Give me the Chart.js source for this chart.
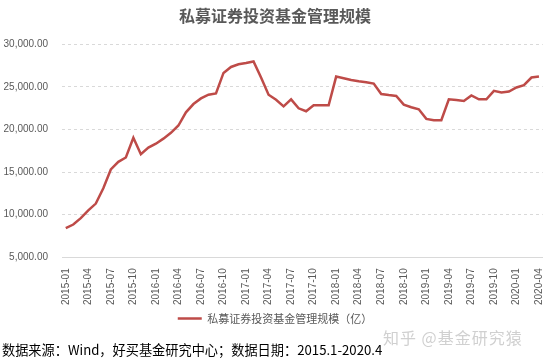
<!DOCTYPE html>
<html>
<head>
<meta charset="utf-8">
<script src="https://cdn.jsdelivr.net/npm/chart.js@4"></script>
<style>
  body { margin: 0; background: #fff; }
  #wrap { position: relative; width: 554px; height: 360px; }
  #footer { position: absolute; left: 2px; top: 340px; font: 13.2px "Noto Sans CJK SC", sans-serif; color: #000; white-space: nowrap; }
  #mark { position: absolute; left: 383px; top: 325px; font: 16px "Noto Sans CJK SC", sans-serif; color: #d0d0d0; white-space: nowrap; letter-spacing: 1px; }
</style>
</head>
<body>
<div id="wrap">
  <canvas id="chart" width="554" height="360"></canvas>
  <div id="mark">知乎 @基金研究猿</div>
  <div id="footer">数据来源：Wind，好买基金研究中心；数据日期：2015.1-2020.4</div>
</div>
<script>
const title = "私募证券投资基金管理规模";
const seriesName = "私募证券投资基金管理规模（亿）";
const months = [
  "2015-01","2015-02","2015-03","2015-04","2015-05","2015-06","2015-07","2015-08","2015-09","2015-10","2015-11","2015-12",
  "2016-01","2016-02","2016-03","2016-04","2016-05","2016-06","2016-07","2016-08","2016-09","2016-10","2016-11","2016-12",
  "2017-01","2017-02","2017-03","2017-04","2017-05","2017-06","2017-07","2017-08","2017-09","2017-10","2017-11","2017-12",
  "2018-01","2018-02","2018-03","2018-04","2018-05","2018-06","2018-07","2018-08","2018-09","2018-10","2018-11","2018-12",
  "2019-01","2019-02","2019-03","2019-04","2019-05","2019-06","2019-07","2019-08","2019-09","2019-10","2019-11","2019-12",
  "2020-01","2020-02","2020-03","2020-04"
];
const scale = [
  8410, 8840, 9600, 10500, 11300, 13100, 15310, 16200, 16710, 19030, 17090, 17870,
  18330, 18920, 19600, 20460, 22010, 22980, 23640, 24070, 24220, 26630, 27330, 27640,
  27790, 27980, 26090, 24070, 23490, 22710, 23530, 22480, 22130, 22830, 22830, 22830,
  26200, 26010, 25810, 25660, 25540, 25380, 24150, 24030, 23930, 22910, 22600, 22360,
  21240, 21080, 21080, 23530, 23450, 23330, 23990, 23530, 23530, 24530, 24340, 24450,
  24920, 25190, 26090, 26200
];
const yTicks = [5000, 10000, 15000, 20000, 25000, 30000];

const ctx = document.querySelector("#chart").getContext('2d');
Chart.defaults.font.family = "'Liberation Sans', 'Noto Sans CJK SC', sans-serif";
Chart.defaults.color = '#595959';

const myChart = new Chart(ctx, {
  type: 'line',
  data: {
    labels: months,
    datasets: [{
      label: seriesName,
      data: scale,
      borderColor: '#BE4B48',
      backgroundColor: '#BE4B48',
      borderWidth: 2.5,
      pointRadius: 0,
      tension: 0
    }]
  },
  options: {
    responsive: false,
    animation: false,
    layout: { padding: { left: 0, right: 4, top: 4, bottom: 26 } },
    plugins: {
      title: {
        display: true,
        text: title,
        color: '#595959',
        font: { size: 16, weight: 'bold', family: "'Noto Sans CJK SC', sans-serif" },
        padding: { top: 2, bottom: 19 }
      },
      legend: {
        position: 'bottom',
        labels: {
          usePointStyle: true,
          pointStyle: 'line',
          pointStyleWidth: 24,
          color: '#595959',
          font: { size: 11, family: "'Noto Sans CJK SC', sans-serif" },
          padding: 5
        }
      },
      tooltip: { enabled: false }
    },
    scales: {
      x: {
        offset: true,
        grid: { display: false },
        border: { display: true, color: '#d9d9d9' },
        ticks: {
          autoSkip: false,
          maxRotation: 90,
          minRotation: 90,
          padding: 3,
          font: { size: 10 },
          callback: function(v, i) { return i % 3 === 0 ? months[i] : null; }
        }
      },
      y: {
        min: yTicks[0],
        max: yTicks[yTicks.length - 1],
        afterBuildTicks: function(axis) { axis.ticks = yTicks.map(v => ({ value: v })); },
        afterFit: function(axis) { axis.width = 62; },
        grid: { color: '#d9d9d9', tickLength: 0, drawTicks: false },
        border: { display: false, dash: [3, 3] },
        ticks: {
          padding: 14,
          font: { size: 10 },
          callback: v => v.toLocaleString('en-US', { minimumFractionDigits: 2, maximumFractionDigits: 2 })
        }
      }
    }
  }
});
</script>
</body>
</html>
